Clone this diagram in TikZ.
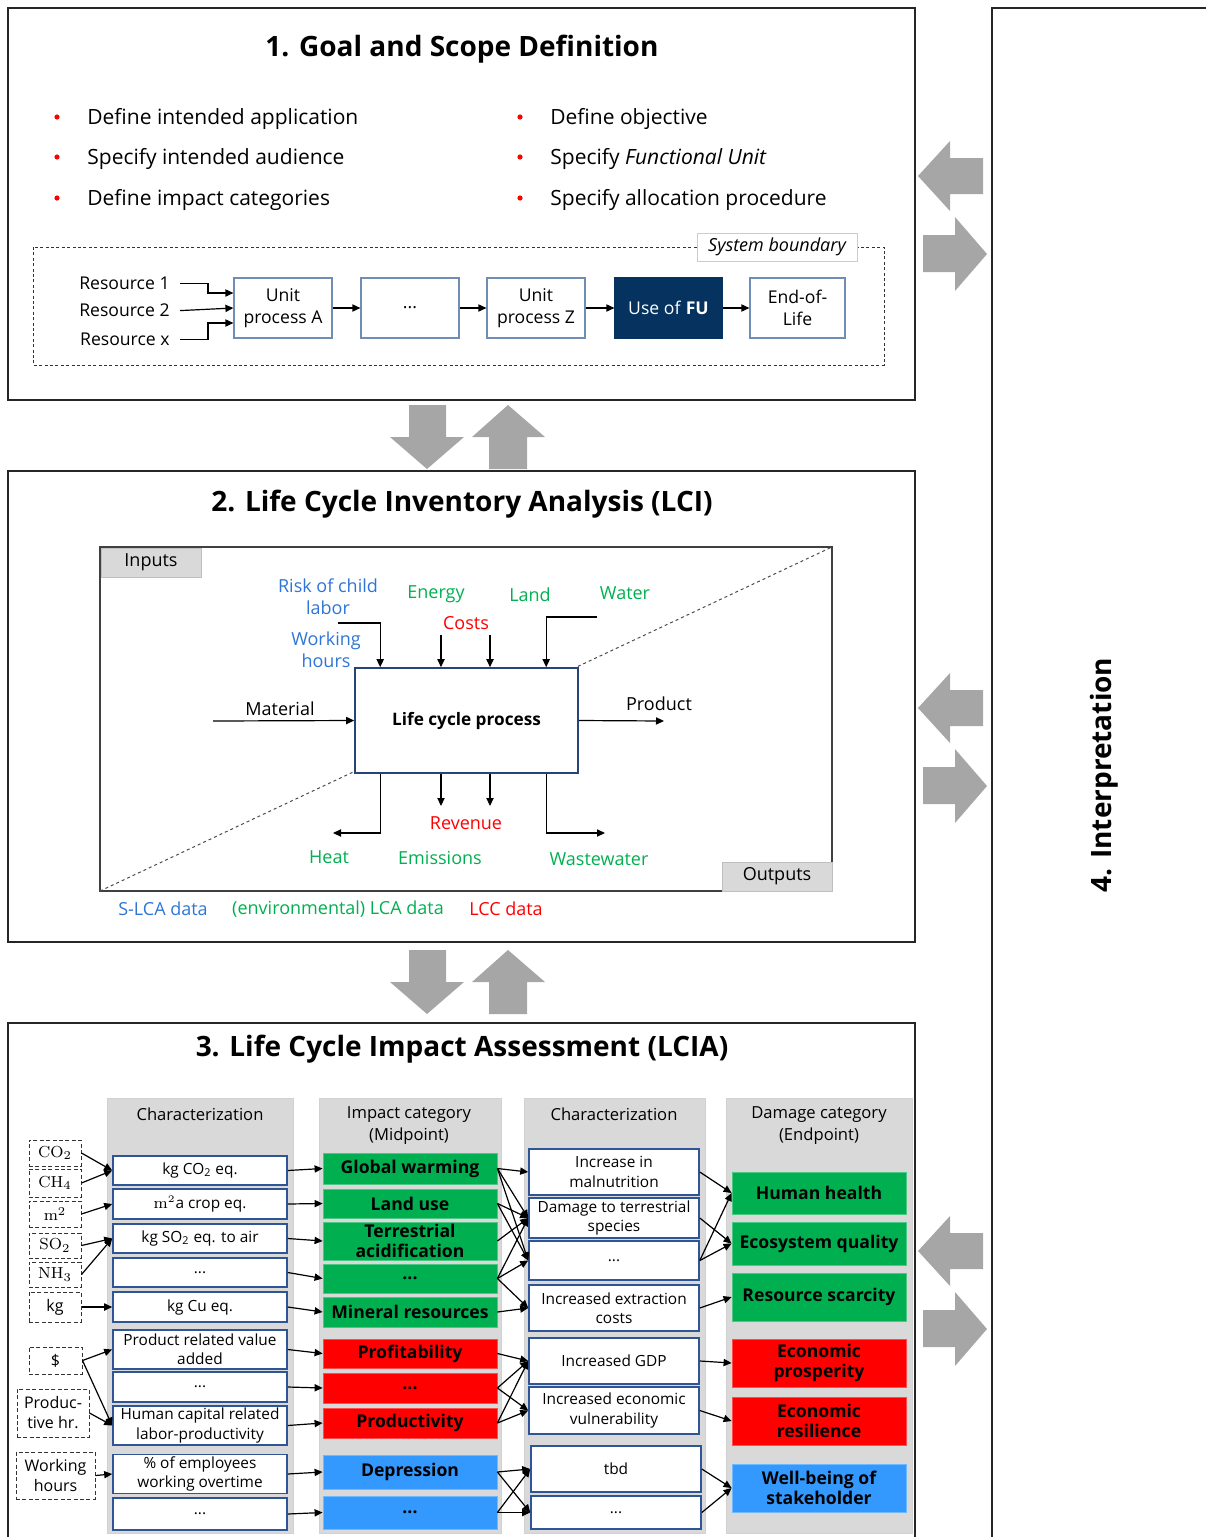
\documentclass[tikz,border=0pt]{standalone}
\usepackage[no-math]{fontspec}
\setmainfont{Open Sans}
\usetikzlibrary{arrows.meta,calc}
\definecolor{cgreen}{HTML}{00B050}
\definecolor{cred}{HTML}{FF0000}
\definecolor{cblue}{HTML}{2E75D6}
\definecolor{bblue}{HTML}{3399FF}
\definecolor{colgray}{HTML}{D9D9D9}
\definecolor{agray}{HTML}{A6A6A6}
\definecolor{navyfu}{HTML}{06325F}
\definecolor{bord}{HTML}{2F5597}
\definecolor{lbord}{HTML}{6F8DB5}
\newcommand\rbox[7]{%
  \pgfmathsetmacro\rbw{(#4-#2)*0.5}\pgfmathsetmacro\rbh{(#5-#3)*0.5}%
  \pgfmathsetmacro\rbx{(#2+#4)/2}\pgfmathsetmacro\rby{(#3+#5)/2}%
  \node[#6, minimum width=\rbw pt, minimum height=\rbh pt] (#1) at (\rbx,\rby) {#7};}
\begin{document}
\begin{tikzpicture}[x=0.5pt,y=-0.5pt,
  secline/.style={draw=black!85, line width=0.6pt},
  ttl/.style={inner sep=0pt, yshift=-1.2pt, font=\fontsize{14}{17}\selectfont\bfseries},
  body/.style={inner sep=0pt, yshift=-1.2pt, font=\fontsize{10.5}{13}\selectfont},
  sm/.style={inner sep=0pt, yshift=-0.8pt, align=center, font=\fontsize{9}{11}\selectfont},
  flowbox/.style={draw=lbord, line width=0.6pt, fill=white, inner sep=1pt, align=center, font=\fontsize{8.8}{11}\selectfont},
  arr/.style={-{Triangle[length=4pt,width=3.6pt]}, line width=0.6pt},
  col/.style={fill=colgray, draw=black!18, line width=0.4pt},
  cbox/.style={draw=bord, line width=0.8pt, fill=white, inner sep=1pt, align=center, font=\fontsize{7.7}{9.6}\selectfont},
  hdr/.style={inner sep=0pt, yshift=-0.8pt, align=center, font=\fontsize{8.3}{11}\selectfont},
  midb/.style={inner sep=1pt, align=center, font=\fontsize{8.8}{10.2}\selectfont\bfseries},
  mg/.style={midb, fill=cgreen, draw=cgreen!70!white, line width=0.4pt},
  mr/.style={midb, fill=cred, draw=cred!70!white, line width=0.4pt},
  mb/.style={midb, fill=bblue, draw=bblue!70!white, line width=0.4pt},
  dflow/.style={draw=black!80, dash pattern=on 2pt off 1.2pt, line width=0.5pt, fill=white, inner sep=0.5pt, align=center, font=\fontsize{8}{10}\selectfont},
  lbl/.style={fill=colgray, draw=black!25, line width=0.4pt, inner sep=0pt, font=\fontsize{9}{11}\selectfont}
]
\useasboundingbox (0,0) rectangle (1205,1537);

% ---------- Section 1 ----------
\draw[secline] (8,8) rectangle (915,400);
\node[ttl] (t1) at (462,47) {1. Goal and Scope Definition};
\node[body, anchor=west] (b1) at (87,117) {Define intended application};
\node[body, anchor=west] (b2) at (87,157) {Specify intended audience};
\node[body, anchor=west] (b3) at (87,198) {Define impact categories};
\node[body, anchor=west] (b4) at (550,117) {Define objective};
\node[body, anchor=west] (b5) at (550,157) {Specify \textit{Functional Unit}};
\node[body, anchor=west] (b6) at (550,198) {Specify allocation procedure};
\foreach \yy in {117,157,198}{
  \fill[cred] (57,\yy) circle (1.3pt);
  \fill[cred] (520,\yy) circle (1.3pt);
}
\draw[black!80, dash pattern=on 1.5pt off 1.2pt, line width=0.5pt] (33,247) rectangle (884,365);
\rbox{sb}{697}{233}{857}{261}{fill=white, draw=black!20, line width=0.4pt, inner sep=0pt, font=\fontsize{9}{11}\selectfont\itshape}{System boundary}

\node[sm, anchor=east, font=\fontsize{8.8}{11}\selectfont] (r1) at (170,282) {Resource 1};
\node[sm, anchor=east, font=\fontsize{8.8}{11}\selectfont] (r2) at (170,309) {Resource 2};
\node[sm, anchor=east, font=\fontsize{8.8}{11}\selectfont] (rx) at (170,338) {Resource x};
\rbox{upA}{234}{278}{332}{338}{flowbox}{Unit\\process A}
\rbox{dts}{361}{278}{459}{338}{flowbox}{...}
\rbox{upZ}{487}{278}{585}{338}{flowbox}{Unit\\process Z}
\rbox{fu}{615}{278}{722}{338}{flowbox, fill=navyfu, draw=navyfu, text=white}{Use of \textbf{FU}}
\rbox{eol}{750}{278}{845}{338}{flowbox}{End-of-\\Life}
\draw[arr] ([xshift=5pt]r1.east) -- ++(14pt,0) |- ([yshift=7.5pt]upA.west);
\draw[arr] ([xshift=5pt]r2.east) -- (upA.west);
\draw[arr] ([xshift=5pt]rx.east) -- ++(14pt,0) |- ([yshift=-7.5pt]upA.west);
\draw[arr] (upA) -- (dts);
\draw[arr] (dts) -- (upZ);
\draw[arr] (upZ) -- (fu);
\draw[arr] (fu) -- (eol);

% ---------- block arrows between sections ----------
\foreach \yo in {0,545}{
  \fill[agray] (409,405+\yo) -- (446,405+\yo) -- (446,437+\yo) -- (464,437+\yo) -- (427,469+\yo) -- (390,437+\yo) -- (409,437+\yo) -- cycle;
  \fill[agray] (508,405+\yo) -- (545,437+\yo) -- (527,437+\yo) -- (527,469+\yo) -- (489,469+\yo) -- (489,437+\yo) -- (472,437+\yo) -- cycle;
}
\foreach \yo in {0,532,1075}{
  \fill[agray] (918,176+\yo) -- (950,141+\yo) -- (950,158+\yo) -- (983,158+\yo) -- (983,194+\yo) -- (950,194+\yo) -- (950,211+\yo) -- cycle;
  \fill[agray] (987,254+\yo) -- (955,217+\yo) -- (955,235+\yo) -- (923,235+\yo) -- (923,272+\yo) -- (955,272+\yo) -- (955,291+\yo) -- cycle;
}

% ---------- Section 4 ----------
\draw[secline] (992,1540) -- (992,8) -- (1210,8);
\node[inner sep=0pt, font=\fontsize{14}{17}\selectfont\bfseries, rotate=90] (t4) at (1104,775) {4. Interpretation};

% ---------- Section 2 ----------
\draw[secline] (8,471) rectangle (915,942);
\node[ttl] (t2) at (462,502) {2. Life Cycle Inventory Analysis (LCI)};
\draw[black!75, line width=0.8pt] (100,547) rectangle (832,891);
\draw[black!70, dash pattern=on 1.5pt off 1.5pt, line width=0.5pt] (100,891) -- (832,547);
\rbox{inp}{101}{548}{201}{577}{lbl}{Inputs}
\rbox{outp}{722}{862}{832}{891}{lbl}{Outputs}
\rbox{lcp}{355}{668}{578}{773}{fill=white, draw=bord!80!black, line width=0.8pt, font=\fontsize{8.6}{11}\selectfont\bfseries}{Life cycle process}

\node[sm, text=cblue] (rcl) at (328,595) {Risk of child\\labor};
\node[sm, text=cblue] (wh) at (326,648) {Working\\hours};
\node[sm, text=cgreen] (en) at (436,593) {Energy};
\node[sm, text=cgreen] (ld) at (530,593) {Land};
\node[sm, text=cgreen] (wa) at (625,592) {Water};
\node[sm, text=cred] (co) at (466,621) {Costs};
\node[sm] (mat) at (280,707) {Material};
\node[sm] (prod) at (659,702) {Product};
\node[sm, text=cred] (rev) at (466,822) {Revenue};
\node[sm, text=cgreen] (heat) at (329,856) {Heat};
\node[sm, text=cgreen] (emi) at (440,856) {Emissions};
\node[sm, text=cgreen] (ww) at (599,858) {Wastewater};
\node[sm, text=cblue] (slca) at (163,907) {S-LCA data};
\node[sm, text=cgreen] (lcad) at (338,907) {(environmental) LCA data};
\node[sm, text=cred] (lccd) at (506,907) {LCC data};

\coordinate (i1) at (338,623);
\coordinate (i2) at (441,635);
\coordinate (i3) at (490,635);
\coordinate (i4) at (597,617);
\coordinate (m0) at (213,721);
\coordinate (p0) at (664,721);
\coordinate (o1) at (333,833);
\coordinate (o2) at (441,806);
\coordinate (o3) at (490,806);
\coordinate (o4) at (605,833);
\draw[arr] (i1) -| ([xshift=13pt]lcp.north west);
\draw[arr] (i2) -- (i2 |- lcp.north);
\draw[arr] (i3) -- (i3 |- lcp.north);
\draw[arr] (i4) -| ([xshift=96pt]lcp.north west);
\draw[arr] (m0) -- (lcp.west);
\draw[arr] (lcp.east) -- (p0);
\draw[arr] ([xshift=13pt]lcp.south west) |- (o1);
\draw[arr] (o2 |- lcp.south) -- (o2);
\draw[arr] (o3 |- lcp.south) -- (o3);
\draw[arr] ([xshift=96pt]lcp.south west) |- (o4);

% ---------- Section 3 ----------
\draw[secline] (8,1540) -- (8,1023) -- (915,1023) -- (915,1540);
\node[ttl] (t3) at (462,1047) {3. Life Cycle Impact Assessment (LCIA)};

\rbox{colA}{107}{1098}{293}{1533}{col}{}
\rbox{colB}{319}{1098}{501}{1533}{col}{}
\rbox{colC}{524}{1098}{705}{1533}{col}{}
\rbox{colD}{726}{1098}{912}{1533}{col}{}
\node[hdr] (hA) at (200,1113) {Characterization};
\node[hdr] (hB) at (409,1124) {Impact category\\(Midpoint)};
\node[hdr] (hC) at (614,1113) {Characterization};
\node[hdr] (hD) at (819,1124) {Damage category\\(Endpoint)};

\rbox{fCO2}{29}{1140}{81}{1166}{dflow}{$\mathrm{CO_2}$}
\rbox{fCH4}{29}{1169}{81}{1197}{dflow}{$\mathrm{CH_4}$}
\rbox{fm2}{29}{1201}{81}{1227}{dflow}{$\mathrm{m^2}$}
\rbox{fSO2}{29}{1233}{81}{1258}{dflow}{$\mathrm{SO_2}$}
\rbox{fNH3}{29}{1262}{81}{1287}{dflow}{$\mathrm{NH_3}$}
\rbox{fkg}{29}{1292}{81}{1322}{dflow}{kg}
\rbox{fdol}{29}{1347}{82}{1374}{dflow}{\$}
\rbox{fph}{17}{1389}{89}{1437}{dflow}{Produc-\\tive hr.}
\rbox{fwh}{16}{1452}{95}{1499}{dflow}{Working\\hours}

\rbox{a1}{113}{1156}{287}{1185}{cbox}{kg CO\textsubscript{2} eq.}
\rbox{a2}{113}{1189}{287}{1219}{cbox}{$\mathrm{m^2}$a crop eq.}
\rbox{a3}{113}{1224}{287}{1253}{cbox}{kg SO\textsubscript{2} eq. to air}
\rbox{a4}{113}{1258}{287}{1287}{cbox}{...}
\rbox{a5}{113}{1292}{287}{1322}{cbox}{kg Cu eq.}
\rbox{a6}{113}{1330}{287}{1369}{cbox}{Product related value\\added}
\rbox{a7}{113}{1372}{287}{1402}{cbox}{...}
\rbox{a8}{113}{1406}{287}{1445}{cbox}{Human capital related\\labor-productivity}
\rbox{a9}{113}{1455}{287}{1493}{cbox}{\% of employees\\working overtime}
\rbox{a10}{113}{1498}{287}{1530}{cbox}{...}

\rbox{m1}{323}{1153}{497}{1184}{mg}{Global warming}
\rbox{m2}{323}{1189}{497}{1218}{mg}{Land use}
\rbox{m3}{323}{1222}{497}{1260}{mg}{Terrestrial\\acidification}
\rbox{m4}{323}{1264}{497}{1293}{mg}{...}
\rbox{m5}{323}{1297}{497}{1327}{mg}{Mineral resources}
\rbox{m6}{323}{1339}{497}{1368}{mr}{Profitability}
\rbox{m7}{323}{1373}{497}{1403}{mr}{...}
\rbox{m8}{323}{1408}{497}{1438}{mr}{Productivity}
\rbox{m9}{323}{1455}{497}{1489}{mb}{Depression}
\rbox{m10}{323}{1496}{497}{1529}{mb}{...}

\rbox{k1}{529}{1149}{699}{1195}{cbox}{Increase in\\malnutrition}
\rbox{k2}{529}{1198}{699}{1238}{cbox}{Damage to terrestrial\\species}
\rbox{k3}{529}{1241}{699}{1280}{cbox}{...}
\rbox{k4}{529}{1285}{699}{1331}{cbox}{Increased extraction\\costs}
\rbox{k5}{529}{1338}{699}{1384}{cbox}{Increased GDP}
\rbox{k6}{529}{1387}{699}{1434}{cbox}{Increased economic\\vulnerability}
\rbox{k7}{531}{1446}{701}{1492}{cbox}{tbd}
\rbox{k8}{531}{1496}{701}{1529}{cbox}{...}

\rbox{d1}{732}{1172}{906}{1214}{mg}{Human health}
\rbox{d2}{732}{1222}{906}{1265}{mg}{Ecosystem quality}
\rbox{d3}{732}{1273}{906}{1321}{mg}{Resource scarcity}
\rbox{d4}{732}{1339}{906}{1387}{mr}{Economic\\prosperity}
\rbox{d5}{732}{1397}{906}{1445}{mr}{Economic\\resilience}
\rbox{d6}{732}{1464}{906}{1512}{mb}{Well-being of\\stakeholder}

\foreach \s/\t in {fCO2/a1, fCH4/a1, fm2/a2, fSO2/a3, fNH3/a3, fkg/a5, fdol/a6, fdol/a8, fph/a8, fwh/a9}
  \draw[arr] (\s.east) -- (\t.west);
\foreach \i in {1,...,10}
  \draw[arr] (a\i.east) -- (m\i.west);
\foreach \s/\t in {m1/k1, m1/k2, m1/k3, m2/k2, m2/k3, m3/k2, m4/k2, m4/k3, m4/k4, m5/k4, m6/k5, m7/k5, m7/k6, m8/k5, m8/k6, m9/k7, m9/k8, m10/k7, m10/k8}
  \draw[arr] (\s.east) -- (\t.west);
\foreach \s/\t in {k1/d1, k2/d2, k3/d1, k3/d2, k4/d3, k5/d4, k6/d5, k7/d6, k8/d6}
  \draw[arr] (\s.east) -- (\t.west);
\end{tikzpicture}
\end{document}
